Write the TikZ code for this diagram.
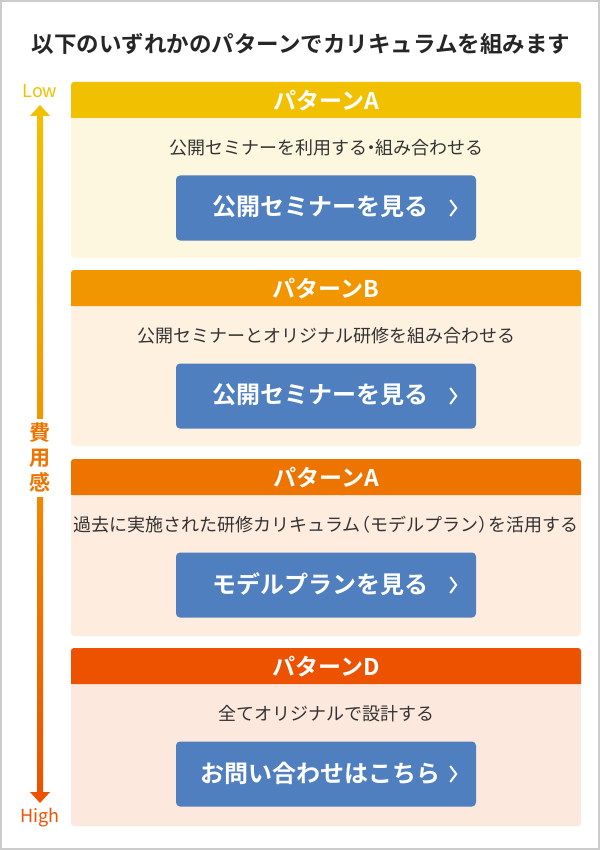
\documentclass[tikz,border=0pt]{standalone}
\usepackage{fontspec}
\setmainfont{Noto Sans CJK JP}
\newfontfamily\jpb{Noto Sans CJK JP Bold}
\begin{document}
\begin{tikzpicture}[x=1pt,y=-1pt,
  hdr/.style={inner sep=0pt,font=\jpb\fontsize{23}{23}\selectfont,text=white},
  body/.style={inner sep=0pt,font=\fontsize{18}{18}\selectfont,text=black!80},
  btn/.style={fill=btnblue,rounded corners=4pt,minimum width=300pt,minimum height=65pt,inner sep=0pt},
  btntext/.style={inner sep=0pt,font=\jpb\fontsize{24}{24}\selectfont,text=white},
  vert/.style={inner sep=0pt,font=\jpb\fontsize{21}{21}\selectfont,text=cC}]
\definecolor{btnblue}{HTML}{4F7FBF}
\definecolor{cA}{HTML}{F1C000}\definecolor{bA}{HTML}{FEF7DF}
\definecolor{cB}{HTML}{F29600}\definecolor{bB}{HTML}{FEF1E0}
\definecolor{cC}{HTML}{EE7400}\definecolor{bC}{HTML}{FEECDE}
\definecolor{cD}{HTML}{EC5200}\definecolor{bD}{HTML}{FDE8DE}
\useasboundingbox (0,0) rectangle (600,850);
\draw[black!20,line width=2pt,fill=white] (1,1) rectangle (599,849);
\node[inner sep=0pt,font=\jpb\fontsize{22.5}{22.5}\selectfont,text=black!85] (title) at (301,44) {以下のいずれかのパターンでカリキュラムを組みます};
% panels
\foreach \t/\h/\c/\b/\txt/\bt/\n in {82/176/cA/bA/公開セミナーを利用する{\kern-5pt}・{\kern-5pt}組み合わせる/公開セミナーを見る/A,
  270/176/cB/bB/公開セミナーとオリジナル研修を組み合わせる/公開セミナーを見る/B,
  459/177/cC/bC/過去に実施された研修カリキュラム{\kern-8pt}（モデルプラン）{\kern-8pt}を活用する/モデルプランを見る/C,
  648/178/cD/bD/全てオリジナルで設計する/お問い合わせはこちら/D}{
  \fill[\b,rounded corners=3pt] (71,\t) rectangle (581,\t+\h);
  \fill[\c,rounded corners=3pt] (71,\t) rectangle (581,\t+36);
  \fill[\c] (71,\t+20) rectangle (581,\t+36);
  \node[body] (txt\n) at (326,\t+66) {\txt};
  \node[btn] (btn\n) at (326,\t+126) {};
  \node[btntext] (bt\n) at (320,\t+125) {\bt};
  \draw[white,line width=2pt,line join=miter] ([xshift=-26pt,yshift=8pt]btn\n.east) -- ([xshift=-20pt]btn\n.east) -- ([xshift=-26pt,yshift=-8pt]btn\n.east);
}
\node[hdr] (hA) at (326,101) {パターンA};
\node[hdr] (hB) at (326,289) {パターンB};
\node[hdr] (hC) at (326,478) {パターンA};
\node[hdr] (hD) at (326,667) {パターンD};
% arrow
\shade[top color=cA,bottom color=cB] (37,112) rectangle (43,418);
\shade[top color=cB!60!cC,bottom color=cD] (37,497) rectangle (43,792);
\fill[cA] (30,116) -- (40,105) -- (50,116) -- cycle;
\fill[cD] (30,792) -- (40,803) -- (50,792) -- cycle;
\node[inner sep=0pt,font=\fontsize{18}{18}\selectfont,text=cA] (low) at (40,91) {Low};
\node[inner sep=0pt,font=\fontsize{18}{18}\selectfont,text=cD] (high) at (40,818) {High};
\node[vert] (v1) at (40,433) {費};
\node[vert] (v2) at (40,458) {用};
\node[vert] (v3) at (40,482) {感};
\end{tikzpicture}
\end{document}
